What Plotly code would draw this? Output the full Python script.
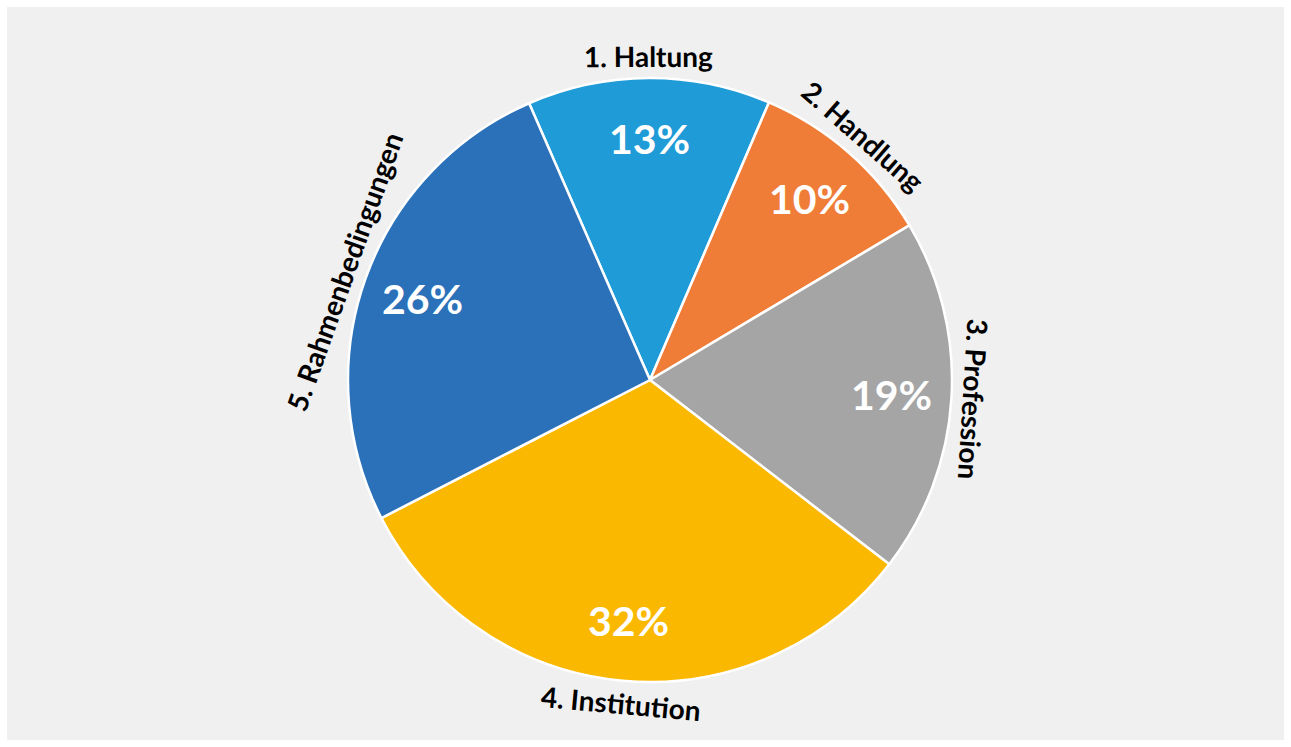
import math
import plotly.graph_objects as go

categories = ["1. Haltung", "2. Handlung", "3. Profession", "4. Institution", "5. Rahmenbedingungen"]
values = [13, 10, 19, 32, 26]
colors = ["#1f9bd7", "#ef7d37", "#a5a5a5", "#fbb800", "#2b71b9"]

W, H = 1291, 747
CX, CY, R = 650, 380, 302
ROT = 336.4

fig = go.Figure()
fig.add_trace(go.Pie(
    labels=categories, values=values, sort=False, direction="clockwise",
    rotation=ROT, textinfo="none", hoverinfo="label+percent",
    marker=dict(colors=colors, line=dict(color="white", width=2.5)),
    showlegend=False,
    domain=dict(x=[(CX - R) / W, (CX + R) / W], y=[1 - (CY + R) / H, 1 - (CY - R) / H]),
))

total = sum(values)
cum = 0
for cat, v in zip(categories, values):
    theta = ROT + 360 * (cum + v / 2) / total
    cum += v
    t = math.radians(theta)
    # percent label inside
    rp = 0.8 * R
    fig.add_annotation(x=(CX + rp * math.sin(t)) / W, y=1 - (CY - rp * math.cos(t)) / H,
                       xref="paper", yref="paper", showarrow=False,
                       text=f"{round(100 * v / total)}%",
                       font=dict(family="Lato", size=41, color="white", weight="bold"),
                       xanchor="center", yanchor="middle")
    # category label outside, tangential
    rl = R + 22
    a = ((theta + 180) % 360) - 180
    if a > 135:
        a -= 180
    elif a < -135:
        a += 180
    fig.add_annotation(x=(CX + rl * math.sin(t)) / W, y=1 - (CY - rl * math.cos(t)) / H,
                       xref="paper", yref="paper", showarrow=False, text=cat,
                       textangle=a,
                       font=dict(family="Lato", size=28, color="black", weight="bold"),
                       xanchor="center", yanchor="middle")

fig.add_shape(type="rect", xref="paper", yref="paper", x0=7 / W, x1=1284 / W,
              y0=1 - 740 / H, y1=1 - 7 / H, fillcolor="#f0f0f0", line=dict(width=0), layer="below")

fig.update_layout(width=W, height=H, margin=dict(l=0, r=0, t=0, b=0),
                  paper_bgcolor="white", plot_bgcolor="white")
fig.write_html("out.html")
